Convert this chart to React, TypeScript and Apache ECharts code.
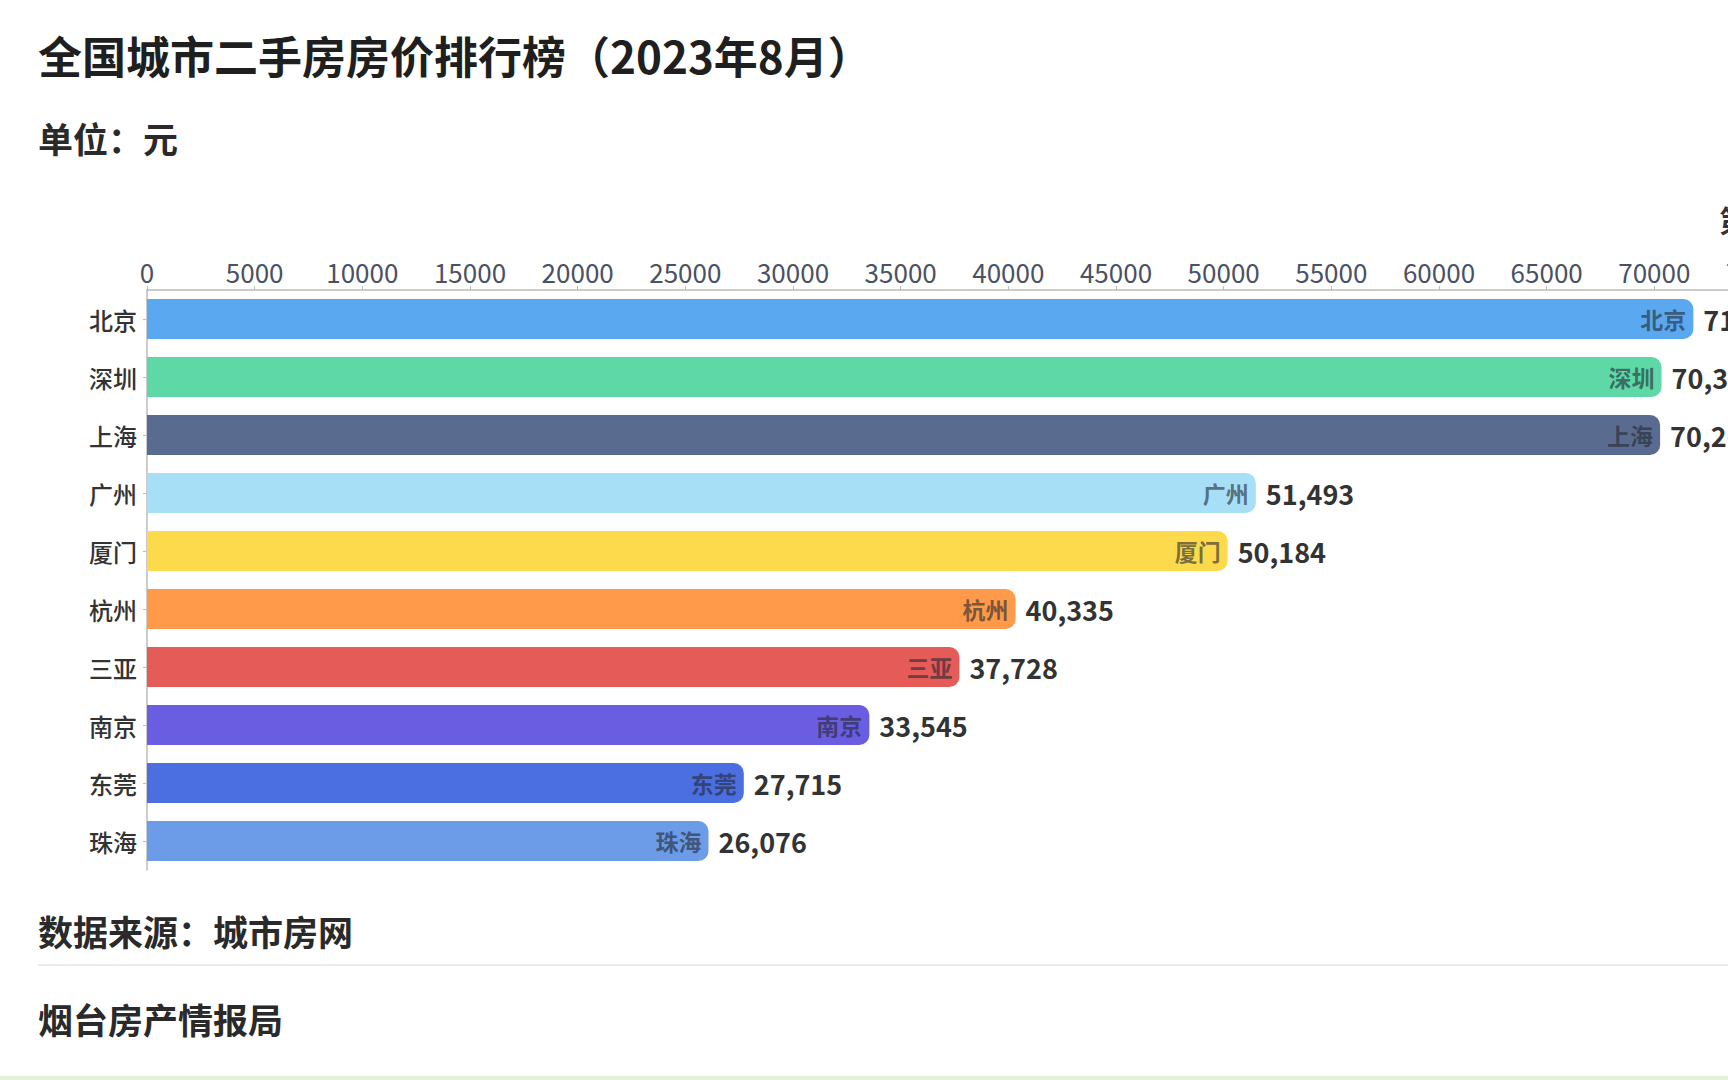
import React, { useEffect, useRef } from "react";
import * as echarts from "echarts";

const cities = ["北京", "深圳", "上海", "广州", "厦门", "杭州", "三亚", "南京", "东莞", "珠海"];
const prices = [71813, 70336, 70268, 51493, 50184, 40335, 37728, 33545, 27715, 26076];
const BAR_COLORS = ["#5AA9F0", "#5ED8A7", "#5A6B90", "#A6DFF6", "#FDDA4B", "#FE9A4A", "#E55B58", "#6B5DE1", "#4B6FE0", "#6C9CE7"];

const TITLE = "全国城市二手房房价排行榜（2023年8月）";
const UNIT = "单位：元";
const SOURCE = "数据来源：城市房网";
const AUTHOR = "烟台房产情报局";

const FONT = '"Noto Sans CJK SC", "Noto Sans", sans-serif';

export default function App() {
  const ref = useRef<HTMLDivElement>(null);
  useEffect(() => {
    if (!ref.current) return;
    const chart = echarts.init(ref.current, null, { renderer: "svg" });
    chart.setOption({
      animation: false,
      backgroundColor: "#ffffff",
      textStyle: { fontFamily: FONT },
      grid: { left: 147, top: 290, width: 1615, height: 580, containLabel: false },
      xAxis: {
        type: "value",
        position: "top",
        min: 0,
        max: 75000,
        interval: 5000,
        axisLine: { show: true, lineStyle: { color: "#bbbbbb", width: 1.5 } },
        axisTick: { show: true, length: 4, lineStyle: { color: "#bbbbbb" } },
        splitLine: { show: false },
        axisLabel: {
          fontSize: 26,
          color: "#4a5163",
          margin: 6,
          fontFamily: FONT,
          formatter: (v: number) => String(v),
        },
      },
      yAxis: {
        type: "category",
        data: cities,
        inverse: true,
        axisLine: { show: true, lineStyle: { color: "#bbbbbb", width: 1.5 } },
        axisTick: { show: true, length: 4, alignWithLabel: true, lineStyle: { color: "#bbbbbb" } },
        axisLabel: { fontSize: 24, color: "#333333", fontWeight: 500, margin: 10, fontFamily: FONT },
      },
      series: [
        {
          type: "bar",
          data: prices.map((v, i) => ({ value: v, itemStyle: { color: BAR_COLORS[i % BAR_COLORS.length] } })),
          barWidth: 40,
          itemStyle: { borderRadius: [0, 10, 10, 0] },
          label: {
            show: true,
            position: "right",
            distance: 10,
            fontSize: 27,
            fontWeight: "bold",
            color: "#333333",
            fontFamily: FONT,
            formatter: (p: any) => Number(p.value).toLocaleString("en-US"),
          },
          z: 2,
        },
        {
          type: "bar",
          data: prices,
          barWidth: 40,
          barGap: "-100%",
          silent: true,
          itemStyle: { color: "rgba(0,0,0,0)" },
          label: {
            show: true,
            position: "insideRight",
            distance: 7,
            fontSize: 23,
            fontWeight: "bold",
            color: "rgba(35,40,50,0.62)",
            fontFamily: FONT,
            formatter: "{b}",
          },
          z: 3,
        },
      ],
      graphic: [
        {
          type: "text",
          left: 38,
          top: 33,
          style: { text: TITLE, font: `bold 44px ${FONT}`, fill: "#1f1f1f" },
        },
        {
          type: "text",
          left: 38,
          top: 120,
          style: { text: UNIT, font: `bold 35px ${FONT}`, fill: "#2a2a2a" },
        },
        {
          type: "text",
          left: 1719,
          top: 204,
          style: { text: "第", font: `bold 30px ${FONT}`, fill: "#333333" },
        },
        {
          type: "text",
          left: 38,
          top: 913,
          style: { text: SOURCE, font: `bold 35px ${FONT}`, fill: "#2a2a2a" },
        },
        {
          type: "line",
          shape: { x1: 38, y1: 965, x2: 1728, y2: 965 },
          style: { stroke: "#ececec", lineWidth: 2 },
        },
        {
          type: "text",
          left: 38,
          top: 1001,
          style: { text: AUTHOR, font: `bold 35px ${FONT}`, fill: "#2a2a2a" },
        },
        {
          type: "rect",
          shape: { x: 0, y: 1076, width: 1900, height: 4 },
          style: { fill: "#dff2d8" },
        },
      ],
    });
    return () => chart.dispose();
  }, []);
  return (
    <div
      style={{
        position: "fixed",
        left: 0,
        top: 0,
        width: 1728,
        height: 1080,
        overflow: "hidden",
        background: "#ffffff",
      }}
    >
      <div ref={ref} style={{ width: 1900, height: 1080 }} />
    </div>
  );
}
